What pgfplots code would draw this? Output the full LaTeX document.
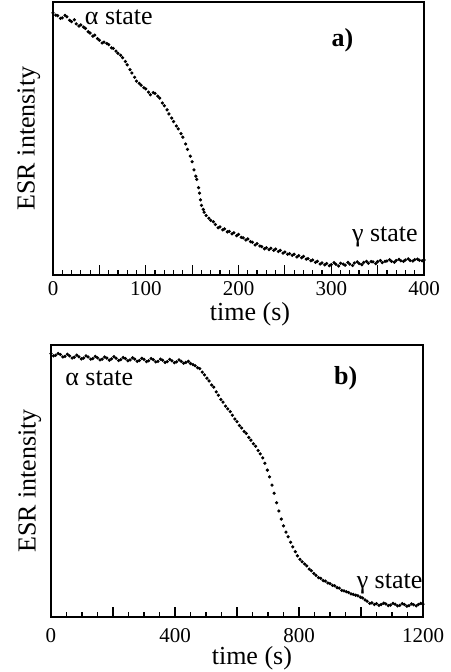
\documentclass[border=0pt]{standalone}
\usepackage{fontspec}
\setmainfont{Liberation Serif}
\usepackage{pgfplots}
\pgfplotsset{compat=1.18}

\pgfplotsset{
  esr/.style={
    scale only axis, width=185.5pt, height=136.5pt,
    ymin=0, ymax=100, ytick=\empty,
    xtick pos=bottom, tick align=inside,
    major tick length=5pt, minor tick length=2.5pt,
    axis line style={line width=0.9pt},
    every tick/.style={line width=0.6pt, black},
    /pgf/number format/assume math mode=true,
    ticklabel style={font=\fontsize{10.5}{12}\selectfont},
    label style={font=\fontsize{13}{15}\selectfont},
    ylabel={ESR intensity},
    xlabel={time (s)},
  },
  dots/.style={only marks, mark=*, mark size=0.6pt, black},
}
\tikzset{ann/.style={font=\fontsize{13}{15}\selectfont, anchor=west, inner sep=0pt}}

\begin{document}
\begin{tikzpicture}
\path[use as bounding box] (0,0) rectangle (225pt,-336pt);

% panel a
\begin{axis}[esr, at={(26.5pt,-137.5pt)}, anchor=south west,
  xmin=0, xmax=400,
  xtick={0,50,...,400}, xticklabels={0,,100,,200,,300,,400},
  minor tick num=4,
  ylabel style={at={(rel axis cs:-0.065,0.5)}, anchor=center},
  xlabel style={at={(rel axis cs:0.531,0)}, anchor=center, yshift=-19.8pt},
  xticklabel style={yshift=0.5pt},
]
\addplot[dots] coordinates {
(0,96.0)(3,95.2)(5,95.0)(8,94.0)(10,94.2)(13,95.1)(15,94.6)(18,93.3)(20,92.8)(23,93.5)
(25,92.0)(28,91.2)(30,91.6)(33,90.8)(35,90.3)(38,89.1)(40,88.6)(43,87.5)(45,87.9)(48,86.6)
(50,86.0)(53,85.0)(55,85.3)(58,84.8)(60,84.4)(63,83.2)(65,83.0)(68,82.0)(70,81.2)(73,80.5)
(75,79.6)(78,78.2)(80,77.0)(83,75.2)(85,74.0)(88,72.4)(90,71.0)(93,70.2)(95,69.5)(98,68.6)
(100,68.2)(103,67.0)(105,66.0)(108,66.8)(110,66.5)(113,65.5)(115,64.8)(118,63.0)(120,62.0)(123,60.5)
(125,59.0)(128,57.5)(130,56.2)(133,54.6)(135,53.5)(138,51.8)(140,50.5)(143,48.0)(145,46.0)(148,43.5)
(150,41.5)(152,38.5)(154,36.2)(155,35.0)(157,32.0)(158,30.0)(159,27.5)(160,25.5)(162,24.0)(163,23.0)
(165,21.8)(168,20.8)(170,20.0)(173,19.5)(175,18.5)(178,17.3)(180,17.6)(183,16.5)(185,16.9)(188,15.8)
(190,16.0)(193,15.1)(195,15.5)(198,14.4)(200,14.9)(203,13.8)(205,13.6)(208,12.8)(210,13.2)(213,12.2)
(215,12.0)(218,11.0)(220,11.5)(223,10.6)(225,10.4)(228,9.6)(230,10.0)(233,9.3)(235,9.8)(238,9.0)
(240,9.5)(243,8.6)(245,9.0)(248,8.0)(250,8.4)(253,7.6)(255,7.8)(258,7.2)(260,7.6)(263,6.6)
(265,7.1)(268,6.3)(270,6.8)(273,5.8)(275,6.0)(278,5.2)(280,5.5)(283,4.6)(285,5.0)(288,4.0)
(290,4.4)(293,3.7)(295,4.2)(298,3.4)(300,3.8)(303,4.5)(305,3.9)(308,3.3)(310,4.3)(313,4.0)
(315,3.6)(318,4.6)(320,4.0)(323,3.5)(325,4.4)(328,4.8)(330,4.2)(333,3.8)(335,4.6)(338,5.0)
(340,4.3)(343,4.9)(345,4.8)(348,4.2)(350,4.9)(353,5.3)(355,4.5)(358,5.0)(360,5.1)(363,5.6)
(365,5.0)(368,4.7)(370,5.3)(373,5.7)(375,5.2)(378,5.0)(380,5.5)(383,5.9)(385,5.3)(388,5.1)
(390,5.6)(393,5.8)(395,5.4)(398,5.2)(400,5.5)
};
\node[ann] at (axis cs:34,94.3) {α state};
\node[ann, font=\fontsize{13}{15}\selectfont\bfseries] at (axis cs:300,85.9) {a)};
\node[ann] at (axis cs:322,14.0) {γ state};
\end{axis}

% panel b
\begin{axis}[esr, at={(25.5pt,-308.5pt)}, anchor=south west,
  height=136pt, width=186pt,
  xmin=0, xmax=1200,
  xtick={0,200,...,1200}, xticklabels={0,,400,,800,,1200},
  minor tick num=3,
  ylabel style={at={(rel axis cs:-0.057,0.5)}, anchor=center},
  xlabel style={at={(rel axis cs:0.54,0)}, anchor=center, yshift=-20.8pt},
  xticklabel style={yshift=-2pt},
]
\addplot[dots] coordinates {
(0,96.8)(8,96.0)(15,96.2)(23,96.9)(30,96.5)(38,95.6)(45,95.8)(53,96.6)(60,96.0)(68,95.2)
(75,95.5)(83,96.3)(90,95.7)(98,94.9)(105,95.2)(113,96.0)(120,95.6)(128,94.8)(135,95.0)(143,95.8)
(150,95.3)(158,94.5)(165,94.8)(173,95.6)(180,95.2)(188,94.4)(195,94.9)(203,95.7)(210,95.1)(218,94.3)
(225,94.6)(233,95.4)(240,95.0)(248,94.2)(255,94.5)(263,95.3)(270,94.8)(278,94.0)(285,94.3)(293,95.1)
(300,94.7)(308,93.9)(315,94.2)(323,95.0)(330,94.6)(338,93.8)(345,94.0)(353,94.8)(360,94.4)(368,93.6)
(375,93.9)(383,94.7)(390,94.2)(398,93.5)(405,93.8)(413,94.5)(420,94.0)(428,93.3)(435,93.6)(443,94.0)
(450,93.2)(458,92.8)(465,92.4)(473,91.6)(480,91.3)(488,90.0)(495,89.0)(503,87.8)(510,86.8)(518,85.3)
(525,84.5)(533,82.8)(540,81.5)(548,80.0)(555,79.0)(563,77.5)(570,76.5)(578,75.5)(585,74.2)(593,72.8)
(600,71.8)(608,70.4)(615,69.5)(623,68.2)(630,67.5)(638,66.0)(645,65.0)(653,63.7)(660,62.8)(668,61.2)
(675,60.0)(683,58.5)(690,56.5)(698,54.0)(705,51.5)(713,48.5)(720,45.5)(728,42.0)(735,39.0)(743,36.0)
(750,33.5)(758,31.2)(765,29.5)(773,27.5)(780,25.8)(788,24.0)(795,22.5)(803,21.2)(810,20.3)(818,19.5)
(825,18.8)(833,17.6)(840,17.0)(848,16.0)(855,15.3)(863,14.5)(870,14.2)(878,13.4)(885,13.2)(893,12.5)
(900,12.3)(908,11.6)(915,11.5)(923,10.8)(930,10.6)(938,9.8)(945,9.6)(953,9.3)(960,9.0)(968,8.5)
(975,8.3)(983,8.0)(990,7.8)(998,7.3)(1005,7.0)(1013,6.3)(1020,5.8)(1028,5.0)(1035,5.2)(1043,4.6)
(1050,4.9)(1058,4.3)(1065,4.6)(1073,5.1)(1080,4.8)(1088,4.2)(1095,4.4)(1103,5.0)(1110,4.7)(1118,4.1)
(1125,4.3)(1133,4.9)(1140,4.6)(1148,4.0)(1155,4.2)(1163,4.8)(1170,4.5)(1178,4.1)(1185,4.6)(1193,5.0)
(1200,4.7)
};
\node[ann] at (axis cs:45,87.6) {α state};
\node[ann, font=\fontsize{13}{15}\selectfont\bfseries] at (axis cs:912,87.6) {b)};
\node[ann] at (axis cs:985,12.3) {γ state};
\end{axis}
\end{tikzpicture}
\end{document}
